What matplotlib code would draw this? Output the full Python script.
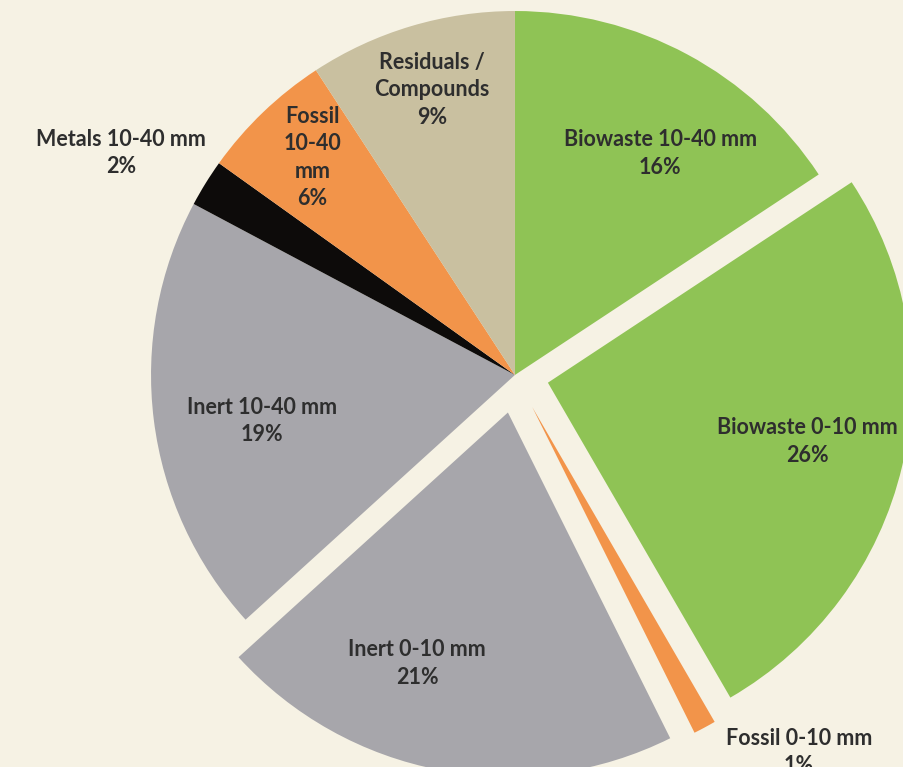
import numpy as np
import matplotlib.pyplot as plt

# waste composition, wedge sizes (%), and the printed percentages
categories = ['Biowaste 10-40 mm', 'Biowaste 0-10 mm', 'Fossil 0-10 mm', 'Inert 0-10 mm',
              'Inert 10-40 mm', 'Metals 10-40 mm', 'Fossil 10-40 mm', 'Residuals / Compounds']
shares = [15.7, 25.9, 1.0, 20.6, 19.5, 2.1, 5.9, 9.2]
pct_labels = [16, 26, 1, 21, 19, 2, 6, 9]
label_text = ['Biowaste 10-40 mm', 'Biowaste 0-10 mm', 'Fossil 0-10 mm', 'Inert 0-10 mm',
              'Inert 10-40 mm', 'Metals 10-40 mm', 'Fossil\n10-40\nmm', 'Residuals /\nCompounds']

colors = ['#8fc355', '#8fc355', '#f2944a', '#a7a6ab', '#a7a6ab', '#0d0b0a', '#f2944a', '#c9c0a0']
explode = [0, 0.093, 0.1, 0.105, 0, 0, 0, 0]
# label placement: distance from wedge centre (in radii) and angular nudge (deg)
label_r = [0.728, 0.732, 1.198, 0.733, 0.707, 1.243, 0.816, 0.816]
label_dtheta = [-5, 0.5, 9.4, -9.3, 3.2, 2.4, -0.8, -0.4]

bg = '#f6f2e4'
fig = plt.figure(figsize=(9.04, 7.67), dpi=100, facecolor=bg)
ax = fig.add_axes([0, 0, 1, 1])
ax.set_facecolor(bg)

wedges, _ = ax.pie(shares, colors=colors, explode=explode, startangle=90, counterclock=False,
                   radius=1.0, wedgeprops=dict(linewidth=0))

for w, txt, val, r, dt in zip(wedges, label_text, pct_labels, label_r, label_dtheta):
    mid = np.deg2rad((w.theta1 + w.theta2) / 2 + dt)
    cx, cy = w.center
    ax.text(cx + r * np.cos(mid), cy + r * np.sin(mid), f'{txt}\n{val}%',
            ha='center', va='center', fontsize=15.5, fontweight='bold', family='Lato',
            color='#2e2e2e', linespacing=1.38)

ax.set_xlim(-1.415, 1.069)
ax.set_ylim(-1.077, 1.030)
ax.set_aspect('equal')
ax.axis('off')

fig.savefig('out.png', dpi=100, facecolor=bg)
